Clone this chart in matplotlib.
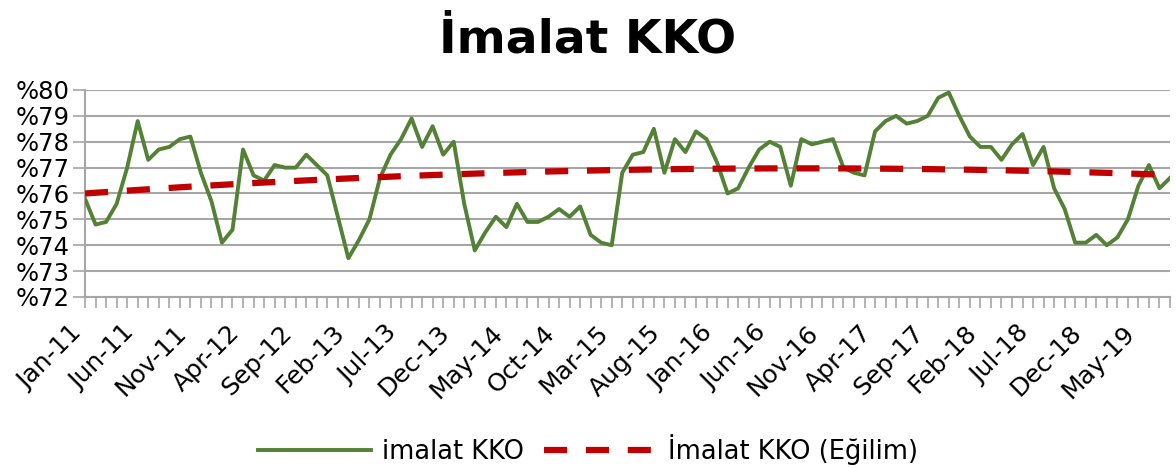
import matplotlib
matplotlib.use("Agg")
import matplotlib.pyplot as plt
import matplotlib.transforms as mtransforms
import numpy as np
import pandas as pd

# monthly capacity utilisation, Jan-2011 .. Aug-2019
months = pd.date_range("2011-01-01", periods=104, freq="MS").strftime("%b-%y").tolist()
kko = [
    75.8, 74.8, 74.9, 75.6, 77.0, 78.8, 77.3, 77.7, 77.8, 78.1, 78.2, 76.8,  # 2011
    75.7, 74.1, 74.6, 77.7, 76.7, 76.5, 77.1, 77.0, 77.0, 77.5, 77.1, 76.7,  # 2012
    75.1, 73.5, 74.2, 75.0, 76.6, 77.5, 78.1, 78.9, 77.8, 78.6, 77.5, 78.0,  # 2013
    75.6, 73.8, 74.5, 75.1, 74.7, 75.6, 74.9, 74.9, 75.1, 75.4, 75.1, 75.5,  # 2014
    74.4, 74.1, 74.0, 76.8, 77.5, 77.6, 78.5, 76.8, 78.1, 77.6, 78.4, 78.1,  # 2015
    77.2, 76.0, 76.2, 77.0, 77.7, 78.0, 77.8, 76.3, 78.1, 77.9, 78.0, 78.1,  # 2016
    77.0, 76.8, 76.7, 78.4, 78.8, 79.0, 78.7, 78.8, 79.0, 79.7, 79.9, 79.0,  # 2017
    78.2, 77.8, 77.8, 77.3, 77.9, 78.3, 77.1, 77.8, 76.2, 75.4, 74.1, 74.1,  # 2018
    74.4, 74.0, 74.3, 75.0, 76.3, 77.1, 76.2, 76.6,                          # 2019
]
y_ticks = [72, 73, 74, 75, 76, 77, 78, 79, 80]

x = np.arange(len(kko))
# Excel style polynomial (order 2) trend line
trend = np.polyval(np.polyfit(x, kko, 2), x)

fig = plt.figure(figsize=(11.76, 4.68), dpi=100)
ax = fig.add_axes([0.0723, 0.3654, 0.9226, 0.4423])

ax.plot(x, kko, color="#538135", lw=2.8, label="imalat KKO", zorder=3)
tr, = ax.plot(x, trend, color="#C00000", lw=4.5, label="İmalat KKO (Eğilim)", zorder=4)
tr.set_dashes([3.7, 3.0])

ax.set_xlim(0, len(kko) - 1)
ax.set_ylim(72, 80)
ax.set_yticks(y_ticks)
ax.set_yticklabels(["%" + str(v) for v in y_ticks], fontsize=17.5)
ax.set_xticks(x)
ax.set_xticklabels([m if i % 5 == 0 else "" for i, m in enumerate(months)],
                   rotation=45, ha="right", va="top", rotation_mode="anchor", fontsize=18)
ax.tick_params(axis="x", direction="out", length=8, color="#A6A6A6", width=1.2, pad=9)
ax.tick_params(axis="y", direction="out", length=9, color="#A6A6A6", width=1.2, pad=2)
shift = mtransforms.ScaledTranslation(-16 / 100, 0, fig.dpi_scale_trans)
for lab in ax.get_xticklabels():
    lab.set_transform(lab.get_transform() + shift)

ax.grid(axis="y", color="#A6A6A6", lw=1.5)
ax.set_axisbelow(True)
for s in ["top", "right"]:
    ax.spines[s].set_visible(False)
for s in ["left", "bottom"]:
    ax.spines[s].set_color("#A6A6A6")
    ax.spines[s].set_linewidth(1.5)

fig.suptitle("İmalat KKO", fontsize=34, fontweight="bold", y=0.962)
fig.legend(loc="lower center", bbox_to_anchor=(0.5, -0.043), ncol=2, frameon=False,
           fontsize=18.5, handlelength=4.4, columnspacing=0.8, handletextpad=0.4)

fig.savefig("out.png", dpi=100)
